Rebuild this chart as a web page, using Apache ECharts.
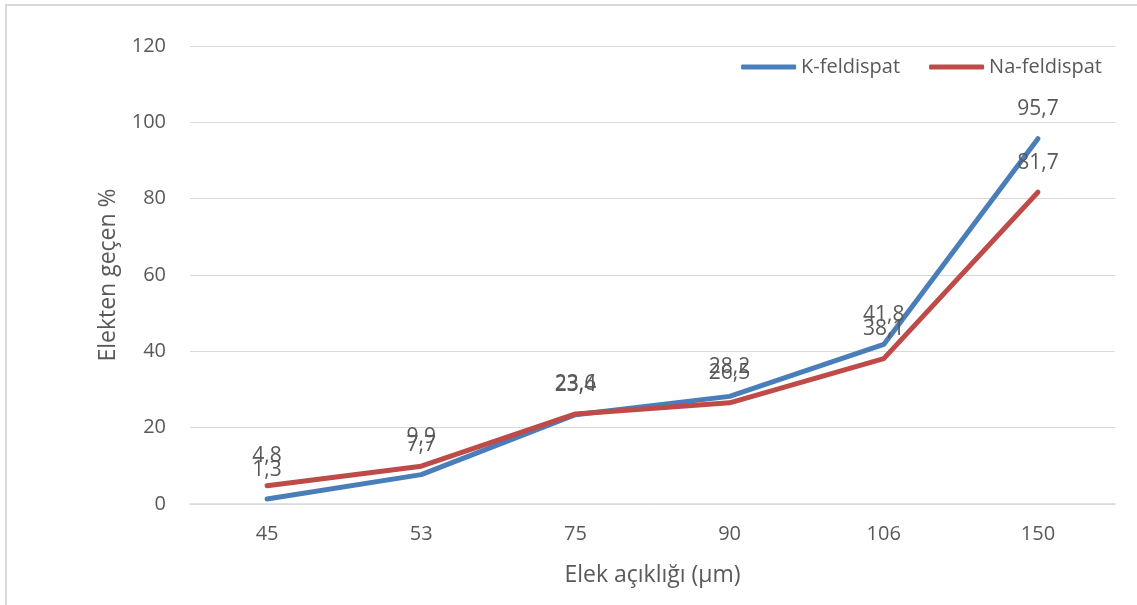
<!DOCTYPE html>
<html>
<head>
<meta charset="utf-8">
<script src="https://cdn.jsdelivr.net/npm/echarts@6/dist/echarts.min.js"></script>
<style>
  html, body { margin: 0; padding: 0; background: #fff; }
  #frame { position: absolute; left: 5px; top: 4px; width: 1140px; height: 610px;
           border-left: 2px solid #d9d9d9; border-top: 2px solid #d9d9d9; box-sizing: border-box; }
  #chart { position: absolute; left: 0; top: 0; width: 1137px; height: 605px; }
</style>
</head>
<body>
<div id="frame"></div>
<div id="chart"></div>
<script>
// Sieve openings (µm) and cumulative passing percentages
const sieveSizes = ['45', '53', '75', '90', '106', '150'];
const kFeldspar = [1.3, 7.7, 23.4, 28.2, 41.8, 95.7];
const naFeldspar = [4.8, 9.9, 23.6, 26.5, 38.1, 81.7];
const seriesNames = ['K-feldispat', 'Na-feldispat'];

const FONT = '"Open Sans", "Noto Sans", sans-serif';
const TEXT = '#595959';
const fmt = p => String(p.value).replace('.', ',');

const valueLabel = {
  show: true, position: 'top', distance: 19,
  color: TEXT, fontSize: 21, fontFamily: FONT, formatter: fmt
};

const chart = echarts.init(document.getElementById('chart'));
chart.setOption({
  animation: false,
  textStyle: { fontFamily: FONT },
  legend: {
    right: 30, top: 52,
    itemWidth: 55, itemHeight: 5, itemGap: 29,
    icon: 'roundRect',
    textStyle: { color: TEXT, fontSize: 20, fontFamily: FONT },
    data: seriesNames
  },
  grid: { left: 190, right: 22, top: 46, bottom: 101 },
  xAxis: {
    type: 'category',
    data: sieveSizes,
    boundaryGap: true,
    name: 'Elek açıklığı (µm)',
    nameLocation: 'middle',
    nameGap: 60,
    nameTextStyle: { color: TEXT, fontSize: 23, fontFamily: FONT },
    axisLine: { lineStyle: { color: '#d9d9d9', width: 1.5 } },
    axisTick: { show: false },
    axisLabel: { color: TEXT, fontSize: 20, margin: 20, fontFamily: FONT }
  },
  yAxis: {
    type: 'value',
    min: 0, max: 120, interval: 20,
    name: 'Elekten geçen %',
    nameLocation: 'middle',
    nameGap: 70,
    nameTextStyle: { color: TEXT, fontSize: 23, fontFamily: FONT },
    axisLine: { show: false },
    axisTick: { show: false },
    axisLabel: { color: TEXT, fontSize: 20, margin: 24, fontFamily: FONT },
    splitLine: { lineStyle: { color: '#d9d9d9', width: 1 } }
  },
  series: [
    {
      name: seriesNames[0], type: 'line', data: kFeldspar,
      symbol: 'circle', symbolSize: 0, showSymbol: true, z: 2,
      lineStyle: { color: '#4a7ebb', width: 5, cap: 'round', join: 'round' },
      itemStyle: { color: '#4a7ebb' },
      label: valueLabel,
      labelLayout: { hideOverlap: false }
    },
    {
      name: seriesNames[1], type: 'line', data: naFeldspar,
      symbol: 'circle', symbolSize: 0, showSymbol: true, z: 3,
      lineStyle: { color: '#be4b48', width: 5, cap: 'round', join: 'round' },
      itemStyle: { color: '#be4b48' },
      label: valueLabel,
      labelLayout: { hideOverlap: false }
    }
  ]
});
</script>
</body>
</html>
